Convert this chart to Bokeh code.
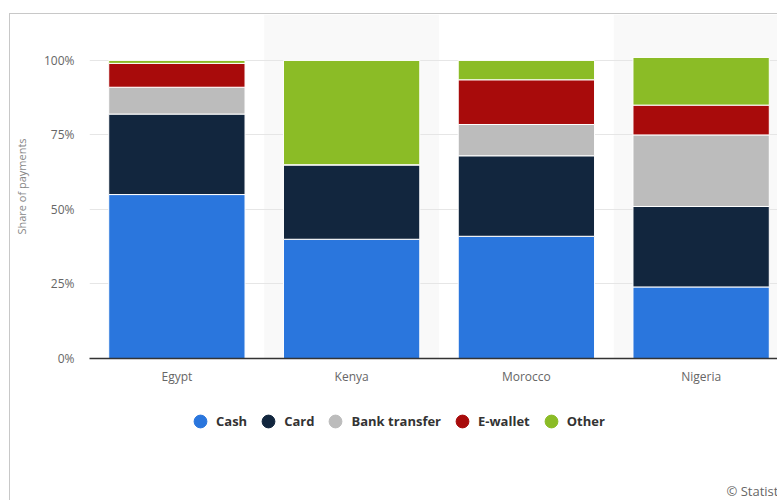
from bokeh.plotting import figure
from bokeh.layouts import column
from bokeh.models import (ColumnDataSource, Range1d, FixedTicker, PrintfTickFormatter,
                          Legend, LegendItem, Label)
from bokeh.embed import file_html
from bokeh.resources import INLINE

categories = ["Egypt", "Kenya", "Morocco", "Nigeria"]
cash = [55, 40, 41, 24]
card = [27, 25, 27, 27]
bank_transfer = [9, 0, 10.5, 24]
e_wallet = [8, 0, 15, 10]
other = [1, 35, 6.5, 16]
y_ticks = [0, 25, 50, 75, 100]

series_names = ["Cash", "Card", "Bank transfer", "E-wallet", "Other"]
series_keys = ["cash", "card", "bank", "ewallet", "other"]
colors = ["#2a76dd", "#12263e", "#bcbcbc", "#a80b0b", "#8bbc26"]

x_idx = list(range(len(categories)))
source = ColumnDataSource(dict(x=x_idx, cash=cash, card=card, bank=bank_transfer,
                               ewallet=e_wallet, other=other))

FONT = "Open Sans"

p = figure(width=767, height=388, output_backend="svg", toolbar_location=None,
           x_range=Range1d(-0.5, 3.437), y_range=Range1d(0, 115.4),
           min_border_left=78, min_border_right=0, min_border_top=0, min_border_bottom=44)
p.outline_line_color = None
p.background_fill_color = "white"
p.border_fill_color = "white"

# alternating bands
p.xgrid.ticker = FixedTicker(ticks=[i - 0.5 for i in range(len(categories) + 1)])
p.xgrid.grid_line_color = None
p.xgrid.band_fill_color = "#f9f9f9"
p.xgrid.band_fill_alpha = 1.0

p.ygrid.ticker = FixedTicker(ticks=y_ticks)
p.ygrid.grid_line_color = "#e6e6e6"
p.ygrid.grid_line_width = 1

p.vbar_stack(series_keys, x="x", width=0.78, color=colors, line_color="white",
             line_width=1, source=source)

# axes
p.xaxis.ticker = FixedTicker(ticks=x_idx)
p.xaxis.major_label_overrides = {i: c for i, c in enumerate(categories)}
p.xaxis.axis_line_color = "#333333"
p.xaxis.axis_line_width = 1.5
p.xaxis.major_tick_line_color = None
p.xaxis.major_tick_out = 0
p.xaxis.major_tick_in = 0
p.xaxis.minor_tick_line_color = None
p.xaxis.major_label_text_font = FONT
p.xaxis.major_label_text_font_size = "12px"
p.xaxis.major_label_text_color = "#666666"
p.xaxis.major_label_standoff = 9

p.yaxis.ticker = FixedTicker(ticks=y_ticks)
p.yaxis.formatter = PrintfTickFormatter(format="%d%%")
p.yaxis.axis_line_color = None
p.yaxis.major_tick_line_color = None
p.yaxis.major_tick_out = 0
p.yaxis.major_tick_in = 0
p.yaxis.minor_tick_line_color = None
p.yaxis.major_label_text_font = FONT
p.yaxis.major_label_text_font_size = "12px"
p.yaxis.major_label_text_color = "#666666"
p.yaxis.major_label_standoff = 15
p.yaxis.axis_label = "Share of payments"
p.yaxis.axis_label_text_font = FONT
p.yaxis.axis_label_text_font_size = "11px"
p.yaxis.axis_label_text_font_style = "normal"
p.yaxis.axis_label_text_color = "#888888"
p.yaxis.axis_label_standoff = 12

# second strip: legend and credit
p2 = figure(width=767, height=98, output_backend="svg", toolbar_location=None,
            x_range=Range1d(0, 1), y_range=Range1d(0, 1),
            min_border_left=78, min_border_right=0, min_border_top=0, min_border_bottom=0)
p2.axis.visible = False
p2.grid.visible = False
p2.outline_line_color = None
p2.background_fill_color = "white"
p2.border_fill_color = "white"

# legend proxies: one point each, placed below the visible range
items = []
for name, c in zip(series_names, colors):
    r = p2.scatter(x=[0.5], y=[-1], marker="circle", size=13, fill_color=c, line_color=c)
    items.append(LegendItem(label=name, renderers=[r]))
legend = Legend(items=items, orientation="horizontal", location=(95, 63),
                glyph_width=32, glyph_height=32, label_standoff=0, spacing=5,
                border_line_color=None, background_fill_alpha=0, padding=0, margin=0,
                label_text_font=FONT, label_text_font_size="13px",
                label_text_font_style="bold", label_text_color="#333333")
p2.add_layout(legend, "center")

credit = Label(x=637, y=10, x_units="screen", y_units="screen", text="© Statista",
               text_font=FONT, text_font_size="13px", text_color="#666666",
               text_baseline="middle")
p2.add_layout(credit)

layout = column(p, p2, spacing=0)
layout.styles = {"margin-left": "9px", "margin-top": "13px",
                 "border-top": "1px solid #c8c8c8", "border-left": "1px solid #c8c8c8"}

open("out.html", "w").write(file_html(layout, INLINE))
